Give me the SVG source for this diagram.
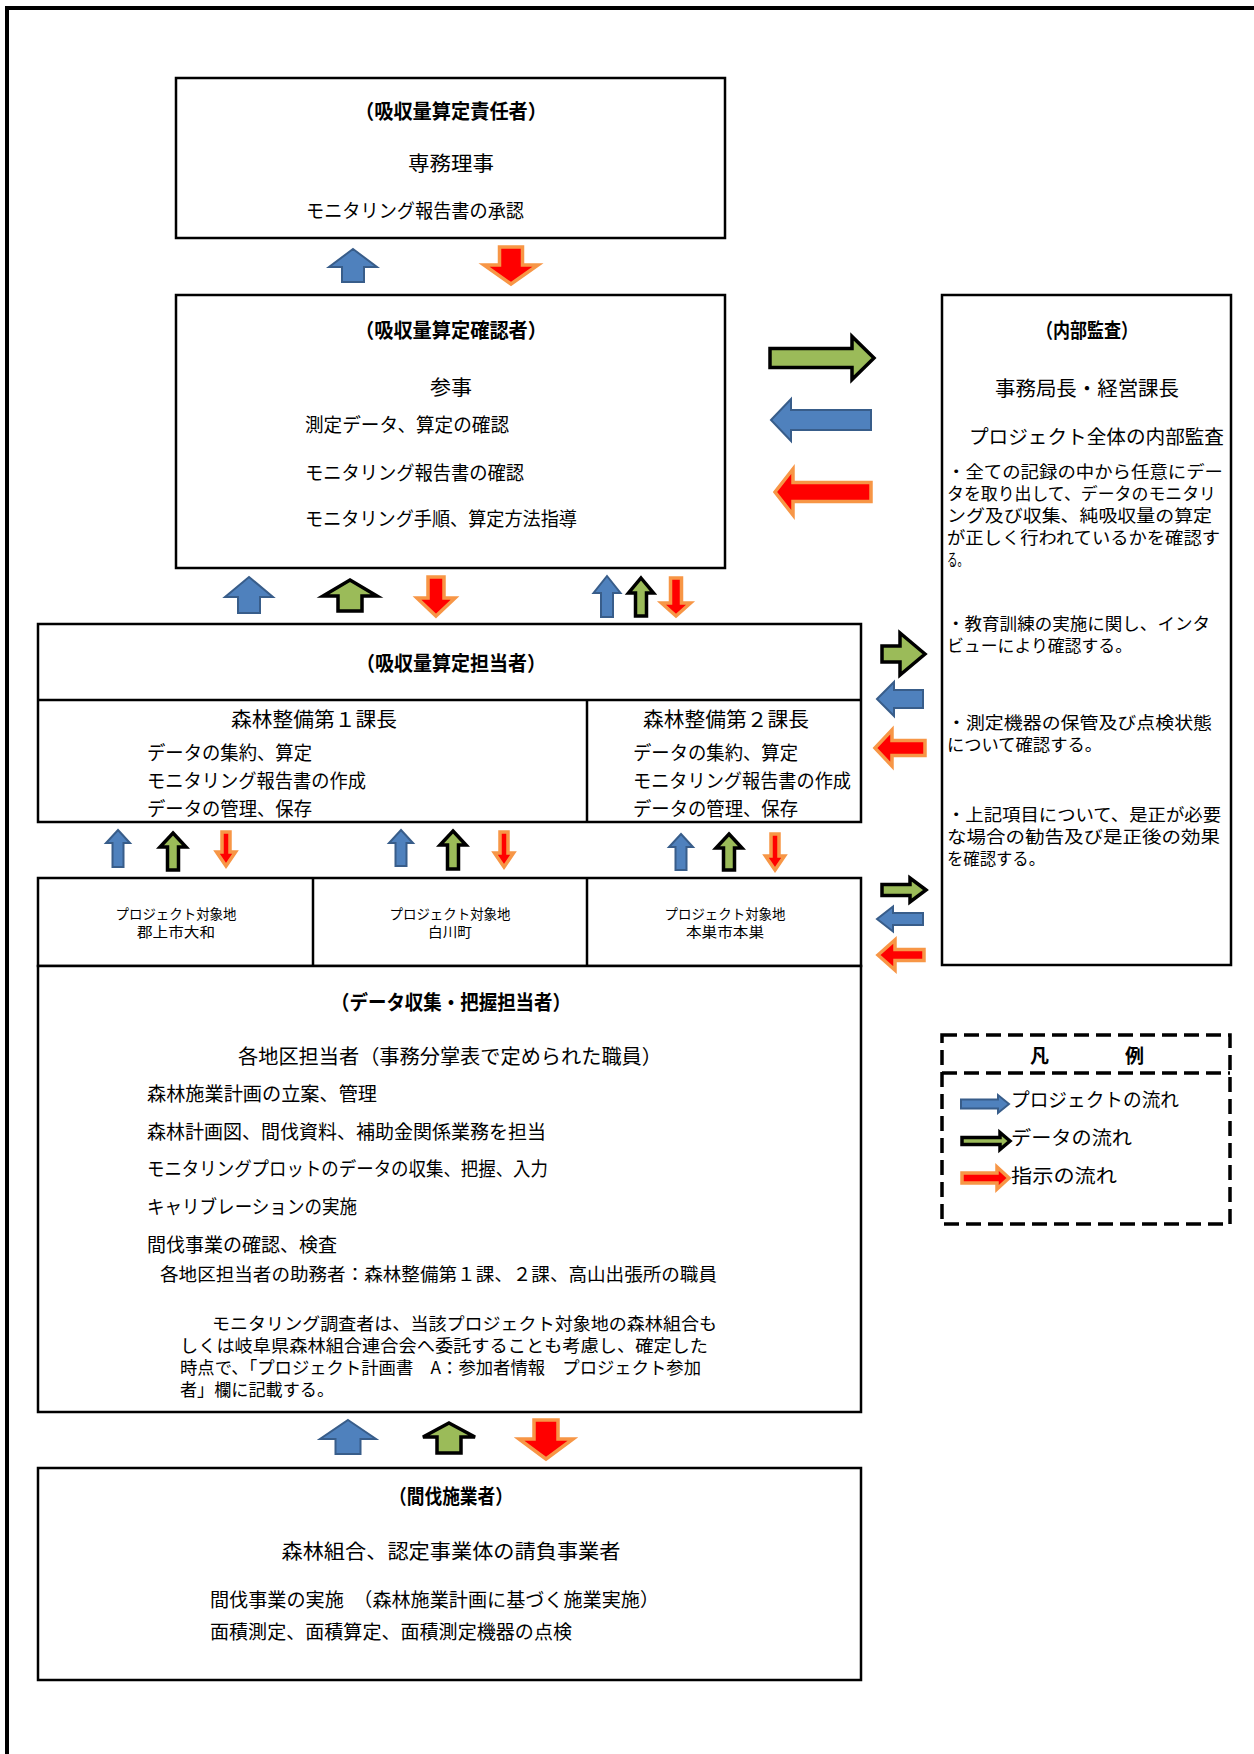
<svg xmlns="http://www.w3.org/2000/svg" width="1254" height="1754" viewBox="0 0 1254 1754">
<defs>
<style>
.t{font-family:"Noto Sans CJK JP","Noto Sans",sans-serif;fill:#000;dominant-baseline:central}
.b{font-weight:bold}
.m{text-anchor:middle}
.box{fill:#fff;stroke:#000;stroke-width:2.5}
.ln{fill:none;stroke:#000;stroke-width:2.5}
.blue{fill:#4F81BD;stroke:#385D8A;stroke-width:2;stroke-linejoin:miter}
.green{fill:#9BBB59;stroke:#000;stroke-width:3.5;stroke-linejoin:miter}
.red{fill:#FF0000;stroke:#F79646;stroke-width:3.5;stroke-linejoin:miter}
.dash{fill:none;stroke:#000;stroke-width:3.5;stroke-dasharray:15 7}
</style>
</defs>
<rect width="1254" height="1754" fill="#fff"/>
<path d="M7,1754 L7,8 L1254,8" fill="none" stroke="#000" stroke-width="4"/>

<g id="node-sekininsha">
<rect class="box" x="176" y="78" width="549" height="160"/>
<text class="t b m" x="451" y="110" font-size="20" textLength="192" lengthAdjust="spacingAndGlyphs">（吸収量算定責任者）</text>
<text class="t m" x="451" y="162" font-size="20" textLength="86" lengthAdjust="spacingAndGlyphs">専務理事</text>
<text class="t" x="306" y="209" font-size="19" textLength="218" lengthAdjust="spacingAndGlyphs">モニタリング報告書の承認</text>
</g>

<g id="node-kakuninsha">
<rect class="box" x="176" y="295" width="549" height="273"/>
<text class="t b m" x="451" y="329" font-size="20" textLength="192" lengthAdjust="spacingAndGlyphs">（吸収量算定確認者）</text>
<text class="t m" x="451" y="386" font-size="20" textLength="42" lengthAdjust="spacingAndGlyphs">参事</text>
<text class="t" x="305" y="423" font-size="19" textLength="204" lengthAdjust="spacingAndGlyphs">測定データ、算定の確認</text>
<text class="t" x="305" y="471" font-size="19" textLength="219" lengthAdjust="spacingAndGlyphs">モニタリング報告書の確認</text>
<text class="t" x="305" y="517" font-size="19" textLength="272" lengthAdjust="spacingAndGlyphs">モニタリング手順、算定方法指導</text>
</g>

<g id="node-naibukansa">
<rect class="box" x="942" y="295" width="289" height="670"/>
<text class="t b m" x="1087" y="329" font-size="20" textLength="102" lengthAdjust="spacingAndGlyphs">（内部監査）</text>
<text class="t m" x="1087" y="387" font-size="20" textLength="184" lengthAdjust="spacingAndGlyphs">事務局長・経営課長</text>
<text class="t" x="969" y="435" font-size="19.5" textLength="255" lengthAdjust="spacingAndGlyphs">プロジェクト全体の内部監査</text>
<text class="t" x="947" y="470" font-size="17" textLength="276" lengthAdjust="spacingAndGlyphs">・全ての記録の中から任意にデー</text>
<text class="t" x="947" y="492" font-size="17" textLength="269" lengthAdjust="spacingAndGlyphs">タを取り出して、データのモニタリ</text>
<text class="t" x="947" y="514" font-size="17" textLength="265" lengthAdjust="spacingAndGlyphs">ング及び収集、純吸収量の算定</text>
<text class="t" x="947" y="536" font-size="17" textLength="273" lengthAdjust="spacingAndGlyphs">が正しく行われているかを確認す</text>
<text class="t" x="947" y="558" font-size="17" textLength="21" lengthAdjust="spacingAndGlyphs">る。</text>
<text class="t" x="947" y="622" font-size="17" textLength="263" lengthAdjust="spacingAndGlyphs">・教育訓練の実施に関し、インタ</text>
<text class="t" x="947" y="644" font-size="17" textLength="185" lengthAdjust="spacingAndGlyphs">ビューにより確認する。</text>
<text class="t" x="947" y="721" font-size="17" textLength="265" lengthAdjust="spacingAndGlyphs">・測定機器の保管及び点検状態</text>
<text class="t" x="947" y="743" font-size="17" textLength="155" lengthAdjust="spacingAndGlyphs">について確認する。</text>
<text class="t" x="947" y="813" font-size="17" textLength="274" lengthAdjust="spacingAndGlyphs">・上記項目について、是正が必要</text>
<text class="t" x="947" y="835" font-size="17" textLength="273" lengthAdjust="spacingAndGlyphs">な場合の勧告及び是正後の効果</text>
<text class="t" x="947" y="857" font-size="17" textLength="98" lengthAdjust="spacingAndGlyphs">を確認する。</text>
</g>

<g id="node-tantousha">
<rect class="box" x="38" y="624" width="823" height="198"/>
<line class="ln" x1="38" y1="700" x2="861" y2="700"/>
<line class="ln" x1="587" y1="700" x2="587" y2="822"/>
<text class="t b m" x="451" y="662" font-size="20" textLength="190" lengthAdjust="spacingAndGlyphs">（吸収量算定担当者）</text>
<text class="t m" x="314" y="718" font-size="20" textLength="166" lengthAdjust="spacingAndGlyphs">森林整備第１課長</text>
<text class="t" x="147" y="751" font-size="19" textLength="165" lengthAdjust="spacingAndGlyphs">データの集約、算定</text>
<text class="t" x="147" y="779" font-size="19" textLength="219" lengthAdjust="spacingAndGlyphs">モニタリング報告書の作成</text>
<text class="t" x="147" y="807" font-size="19" textLength="165" lengthAdjust="spacingAndGlyphs">データの管理、保存</text>
<text class="t m" x="726" y="718" font-size="20" textLength="166" lengthAdjust="spacingAndGlyphs">森林整備第２課長</text>
<text class="t" x="633" y="751" font-size="19" textLength="165" lengthAdjust="spacingAndGlyphs">データの集約、算定</text>
<text class="t" x="633" y="779" font-size="19" textLength="218" lengthAdjust="spacingAndGlyphs">モニタリング報告書の作成</text>
<text class="t" x="633" y="807" font-size="19" textLength="165" lengthAdjust="spacingAndGlyphs">データの管理、保存</text>
</g>

<g id="node-sites">
<rect class="box" x="38" y="878" width="823" height="88"/>
<line class="ln" x1="313" y1="878" x2="313" y2="966"/>
<line class="ln" x1="587" y1="878" x2="587" y2="966"/>
<text class="t m" x="176" y="913" font-size="14" textLength="121" lengthAdjust="spacingAndGlyphs">プロジェクト対象地</text>
<text class="t m" x="176" y="931" font-size="14" textLength="78" lengthAdjust="spacingAndGlyphs">郡上市大和</text>
<text class="t m" x="450" y="913" font-size="14" textLength="121" lengthAdjust="spacingAndGlyphs">プロジェクト対象地</text>
<text class="t m" x="450" y="931" font-size="14" textLength="44" lengthAdjust="spacingAndGlyphs">白川町</text>
<text class="t m" x="725" y="913" font-size="14" textLength="121" lengthAdjust="spacingAndGlyphs">プロジェクト対象地</text>
<text class="t m" x="725" y="931" font-size="14" textLength="78" lengthAdjust="spacingAndGlyphs">本巣市本巣</text>
</g>

<g id="node-datashuushuu">
<rect class="box" x="38" y="966" width="823" height="446"/>
<text class="t b m" x="451" y="1001" font-size="20" textLength="240" lengthAdjust="spacingAndGlyphs">（データ収集・把握担当者）</text>
<text class="t m" x="450" y="1055" font-size="20" textLength="424" lengthAdjust="spacingAndGlyphs">各地区担当者（事務分掌表で定められた職員）</text>
<text class="t" x="147" y="1092" font-size="19" textLength="230" lengthAdjust="spacingAndGlyphs">森林施業計画の立案、管理</text>
<text class="t" x="147" y="1130" font-size="19" textLength="399" lengthAdjust="spacingAndGlyphs">森林計画図、間伐資料、補助金関係業務を担当</text>
<text class="t" x="147" y="1167" font-size="19" textLength="401" lengthAdjust="spacingAndGlyphs">モニタリングプロットのデータの収集、把握、入力</text>
<text class="t" x="147" y="1205" font-size="19" textLength="210" lengthAdjust="spacingAndGlyphs">キャリブレーションの実施</text>
<text class="t" x="147" y="1243" font-size="19" textLength="190" lengthAdjust="spacingAndGlyphs">間伐事業の確認、検査</text>
<text class="t" x="160" y="1273" font-size="18" textLength="557" lengthAdjust="spacingAndGlyphs">各地区担当者の助務者：森林整備第１課、２課、高山出張所の職員</text>
<text class="t" x="212" y="1322" font-size="17.5" textLength="505" lengthAdjust="spacingAndGlyphs">モニタリング調査者は、当該プロジェクト対象地の森林組合も</text>
<text class="t" x="180" y="1344" font-size="17.5" textLength="528" lengthAdjust="spacingAndGlyphs">しくは岐阜県森林組合連合会へ委託することも考慮し、確定した</text>
<text class="t" x="180" y="1366" font-size="17.5" textLength="521" lengthAdjust="spacingAndGlyphs">時点で、「プロジェクト計画書　A：参加者情報　プロジェクト参加</text>
<text class="t" x="180" y="1388" font-size="17.5" textLength="154" lengthAdjust="spacingAndGlyphs">者」欄に記載する。</text>
</g>

<g id="node-kanbatsu">
<rect class="box" x="38" y="1468" width="823" height="212"/>
<text class="t b m" x="451" y="1495" font-size="20" textLength="124" lengthAdjust="spacingAndGlyphs">（間伐施業者）</text>
<text class="t m" x="451" y="1550" font-size="20" textLength="339" lengthAdjust="spacingAndGlyphs">森林組合、認定事業体の請負事業者</text>
<text class="t" x="210" y="1598" font-size="19" textLength="449" lengthAdjust="spacingAndGlyphs">間伐事業の実施　（森林施業計画に基づく施業実施）</text>
<text class="t" x="210" y="1630" font-size="19" textLength="362" lengthAdjust="spacingAndGlyphs">面積測定、面積算定、面積測定機器の点検</text>
</g>

<g id="legend">
<rect class="dash" x="942" y="1035" width="288" height="189"/>
<line class="dash" x1="942" y1="1073" x2="1230" y2="1073"/>
<text class="t b" x="1030" y="1054" font-size="19">凡　　　　例</text>
<polygon class="blue" points="1009,1104 998,1095 998,1099.5 961,1099.5 961,1108.5 998,1108.5 998,1113"/>
<polygon class="green" points="1010,1141 1000,1132.5 1000,1137.5 962,1137.5 962,1144.5 1000,1144.5 1000,1149.5"/>
<polygon class="red" points="1009,1178 997,1167 997,1173 962,1173 962,1183 997,1183 997,1189"/>
<text class="t" x="1011" y="1098" font-size="19" textLength="168" lengthAdjust="spacingAndGlyphs">プロジェクトの流れ</text>
<text class="t" x="1011" y="1136" font-size="19" textLength="121" lengthAdjust="spacingAndGlyphs">データの流れ</text>
<text class="t" x="1011" y="1174" font-size="19" textLength="106" lengthAdjust="spacingAndGlyphs">指示の流れ</text>
</g>

<g id="connectors">
<!-- A-B -->
<polygon class="blue" points="353,249 377,267 364,267 364,282 342,282 342,267 329,267"/>
<polygon class="red" points="511,284 538,265 522.5,265 522.5,247 499.5,247 499.5,265 484,265"/>
<!-- B-C -->
<polygon class="green" points="874,358 852,336.5 852,348.5 770,348.5 770,367.5 852,367.5 852,379.5"/>
<polygon class="blue" points="771,420 791,399 791,410 871,410 871,430 791,430 791,441"/>
<polygon class="red" points="775,492 793,469 793,482.5 871,482.5 871,501.5 793,501.5 793,515"/>
<!-- B-D -->
<polygon class="blue" points="249,577 273,597 260,597 260,613 238,613 238,597 225,597"/>
<polygon class="green" points="350,580 377,596 362,596 362,611 338,611 338,596 323,596"/>
<polygon class="red" points="436,616 455,598 444,598 444,577 428,577 428,598 417,598"/>
<polygon class="blue" points="607,576 620.5,593 613,593 613,617 601,617 601,593 593.5,593"/>
<polygon class="green" points="641,578 653.5,593 646.5,593 646.5,616 635.5,616 635.5,593 628.5,593"/>
<polygon class="red" points="676,616 690.5,603 681.5,603 681.5,578 670.5,578 670.5,603 661.5,603"/>
<!-- D-C -->
<polygon class="green" points="925,654 900,633 900,646 882,646 882,662 900,662 900,675"/>
<polygon class="blue" points="877,699 894,682 894,690 923,690 923,708 894,708 894,716"/>
<polygon class="red" points="875,748 892,730 892,740.5 925,740.5 925,755.5 892,755.5 892,766"/>
<!-- D-E group 1 -->
<polygon class="blue" points="118,830 130,843 123.5,843 123.5,867 112.5,867 112.5,843 106,843"/>
<polygon class="green" points="173,833 186,847 178.5,847 178.5,870 167.5,870 167.5,847 160,847"/>
<polygon class="red" points="226,866 235.5,852 230,852 230,832 222,832 222,852 216.5,852"/>
<!-- D-E group 2 -->
<polygon class="blue" points="401,830 413,843 406.5,843 406.5,866 395.5,866 395.5,843 389,843"/>
<polygon class="green" points="453,831 466,845 458.5,845 458.5,869 447.5,869 447.5,845 440,845"/>
<polygon class="red" points="504,867 513.5,853 508,853 508,832 500,832 500,853 494.5,853"/>
<!-- D-E group 3 -->
<polygon class="blue" points="681,834 693,847 686.5,847 686.5,870 675.5,870 675.5,847 669,847"/>
<polygon class="green" points="729,834 742,848 734.5,848 734.5,870 723.5,870 723.5,848 716,848"/>
<polygon class="red" points="775,870 784.5,856 779,856 779,834 771,834 771,856 765.5,856"/>
<!-- E-C -->
<polygon class="green" points="926,890 910,878 910,884.5 882,884.5 882,895.5 910,895.5 910,902"/>
<polygon class="blue" points="877,919 893,906.5 893,913 923,913 923,925 893,925 893,931.5"/>
<polygon class="red" points="878,955 895,940 895,949.5 924,949.5 924,960.5 895,960.5 895,970"/>
<!-- F-G -->
<polygon class="blue" points="348,1420 376,1439 360.5,1439 360.5,1454 335.5,1454 335.5,1439 320,1439"/>
<polygon class="green" points="449,1423 475,1437 461,1437 461,1453 437,1453 437,1437 423,1437"/>
<polygon class="red" points="546,1459 573,1439 558,1439 558,1420 534,1420 534,1439 519,1439"/>
</g>
</svg>
